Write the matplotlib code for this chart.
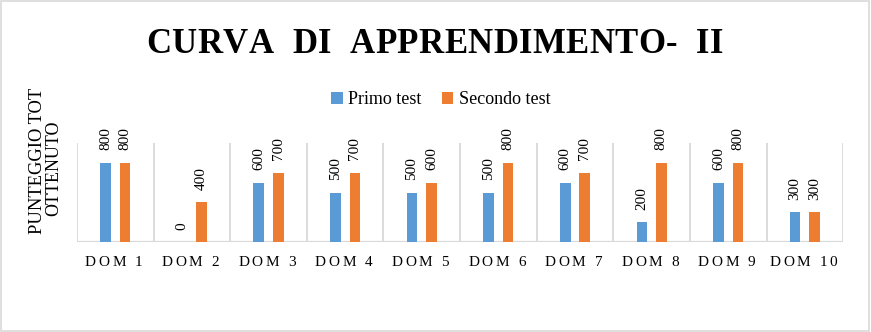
import matplotlib.pyplot as plt
import numpy as np
from matplotlib.patches import Rectangle
from matplotlib.font_manager import FontProperties
from matplotlib import transforms

categories = ['DOM 1', 'DOM 2', 'DOM 3', 'DOM 4', 'DOM 5',
              'DOM 6', 'DOM 7', 'DOM 8', 'DOM 9', 'DOM 10']
primo = [800, 0, 600, 500, 500, 500, 600, 200, 600, 300]
secondo = [800, 400, 700, 700, 600, 800, 700, 800, 800, 300]
title = 'CURVA  DI  APPRENDIMENTO-  II'
ylabel_lines = ['PUNTEGGIO TOT', 'OTTENUTO']

plt.rcParams['font.family'] = ['Liberation Serif', 'DejaVu Serif']

fig = plt.figure(figsize=(8.71, 3.32), dpi=100)
ax = fig.add_axes([0.0884, 0.271, 0.8796, 0.298])
renderer = fig.canvas.get_renderer()


def char_width(c, fp):
    if c == ' ':
        a = renderer.get_text_width_height_descent('a', fp, ismath=False)[0]
        return renderer.get_text_width_height_descent('a a', fp, ismath=False)[0] - 2 * a
    return renderer.get_text_width_height_descent(c, fp, ismath=False)[0]


def spaced_text(s, x, y, trans, track, size, weight='normal'):
    # place chars one by one to get the letter spacing of the original
    fp = FontProperties(family=['Liberation Serif'], size=size, weight=weight)
    widths = [char_width(c, fp) for c in s]
    total = sum(widths) + track * (len(s) - 1)
    pos = -total / 2
    for c, wd in zip(s, widths):
        t = transforms.offset_copy(trans, fig=fig, x=pos * 72 / fig.dpi, y=0, units='points')
        fig.text(x, y, c, transform=t, ha='left', va='center', fontproperties=fp)
        pos += wd + track


x = np.arange(len(categories))
w = 0.14
off = 0.127
b1 = ax.bar(x - off, primo, w, color='#5B9BD5', label='Primo test')
b2 = ax.bar(x + off, secondo, w, color='#ED7D31', label='Secondo test')

for bars, vals in [(b1, primo), (b2, secondo)]:
    for bar, v in zip(bars, vals):
        ax.annotate(str(v), (bar.get_x() + bar.get_width() / 2, v),
                    xytext=(0, 9), textcoords='offset points',
                    rotation=90, ha='center', va='bottom', fontsize=11)

ax.set_xlim(-0.5, len(categories) - 0.5)
ax.set_ylim(0, 1000)
for b in np.arange(-0.5, len(categories), 1.0):
    ax.axvline(b, color='#d9d9d9', lw=1.3, zorder=0)
ax.axhline(0, color='#d9d9d9', lw=1.6, zorder=0)
ax.set_xticks([])
ax.set_yticks([])
for s in ax.spines.values():
    s.set_visible(False)

xt = transforms.blended_transform_factory(ax.transData, fig.transFigure)
for i, c in enumerate(categories):
    spaced_text(c, x[i] - 0.02, 1 - 263 / 332, xt, 2.6, 11)

spaced_text(title, 0.499, 0.866, fig.transFigure, 0.4, 25, weight='bold')

# y label, two lines as in the original
fig.text(38 / 871, 1 - 161 / 332, ylabel_lines[0], rotation=90, ha='center', va='center', fontsize=13.3)
fig.text(54 / 871, 1 - 168 / 332, ylabel_lines[1], rotation=90, ha='center', va='center', fontsize=13)

fig.legend(handles=[b1, b2], loc='center', bbox_to_anchor=(0.506, 0.699), ncol=2,
           frameon=False, fontsize=13, handlelength=0.65, handleheight=0.65,
           handletextpad=0.3, columnspacing=1.1)

fig.add_artist(Rectangle((0.001, 0.002), 0.997, 0.995, transform=fig.transFigure,
                         fill=False, edgecolor='#d9d9d9', lw=1.2))

fig.savefig('out.png', dpi=100)
